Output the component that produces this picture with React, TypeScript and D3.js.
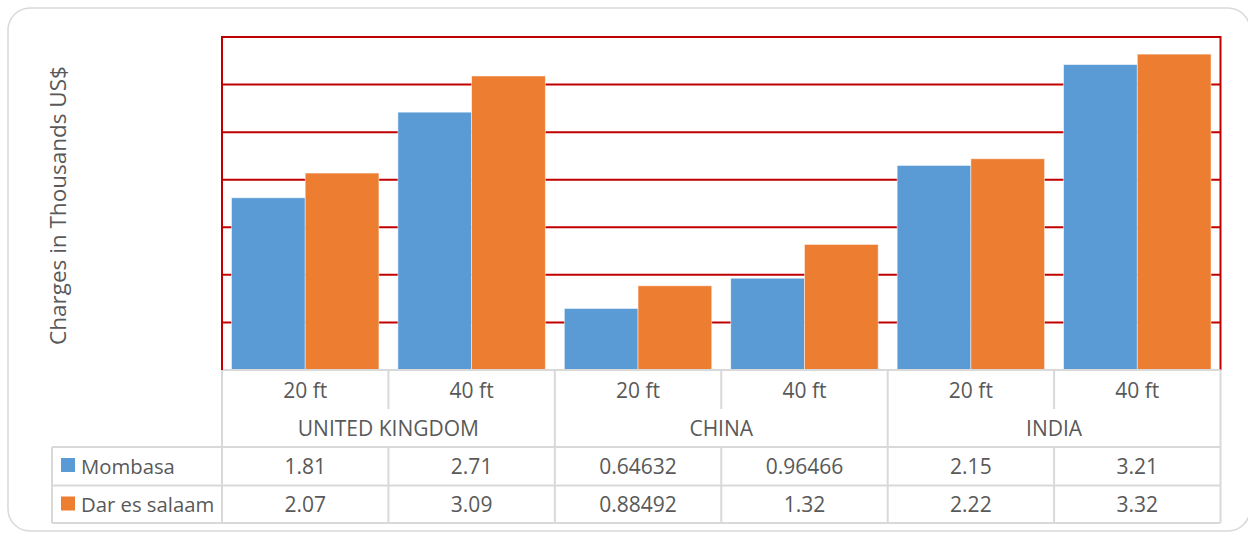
import React from "react";
import * as d3 from "d3";

const countries = ["UNITED KINGDOM", "CHINA", "INDIA"];
const sizes = ["20 ft", "40 ft"];
const seriesNames = ["Mombasa", "Dar es salaam"];
const mombasa = [1.81, 2.71, 0.64632, 0.96466, 2.15, 3.21];
const darEsSalaam = [2.07, 3.09, 0.88492, 1.32, 2.22, 3.32];
const seriesLabels = [
  ["1.81", "2.71", "0.64632", "0.96466", "2.15", "3.21"],
  ["2.07", "3.09", "0.88492", "1.32", "2.22", "3.32"],
];
const yTicks = [0, 0.5, 1, 1.5, 2, 2.5, 3, 3.5];
const colors = ["#5B9BD5", "#ED7D31"];

export default function App() {
  const W = 1248, H = 533;
  const left = 222, right = 1220.5, top = 37, bottom = 370;
  const font = "'Open Sans', sans-serif";
  const textColor = "#595959";
  const tableLine = "#d9d9d9";
  const red = "#C00000";

  const cats = countries.flatMap((c) => sizes.map((s) => `${c}|${s}`));
  const x = d3.scaleBand<string>().domain(cats).range([left, right]).paddingInner(0.114).paddingOuter(0.057);
  const xCell = d3.scaleBand<string>().domain(cats).range([left, right]).padding(0);
  const xInner = d3.scaleBand<string>().domain(seriesNames).range([0, x.bandwidth()]).padding(0);
  const y = d3.scaleLinear().domain([0, 3.5]).range([bottom, top]);
  const series = [mombasa, darEsSalaam];

  const rowSize = 370, rowCountryBottom = 447, rowM = 485.5, rowD = 523;
  const step = xCell.step();

  return (
    <svg width={W} height={H} style={{ position: "absolute", left: 0, top: 0 }} fontFamily={font}>
      <rect x={0} y={0} width={W} height={H} fill="#fff" />
      <rect x={8} y={8} width={1242} height={523} rx={22} ry={22} fill="#fff" stroke="#d9d9d9" strokeWidth={1.5} />
      {yTicks.map((t) => (
        <line key={t} x1={left} x2={right} y1={y(t)} y2={y(t)} stroke={red} strokeWidth={2} />
      ))}
      <line x1={left} x2={left} y1={top - 1} y2={bottom} stroke={red} strokeWidth={2} />
      <line x1={right} x2={right} y1={top - 1} y2={bottom} stroke={red} strokeWidth={2} />
      {cats.map((c, i) => (
        <g key={c}>
          {series.map((s, k) => (
            <rect
              key={k}
              x={(x(c) as number) + (xInner(seriesNames[k]) as number)}
              y={y(s[i])}
              width={xInner.bandwidth()}
              height={bottom - y(s[i])}
              fill={colors[k]}
              stroke="#fff"
              strokeOpacity={0.6}
              strokeWidth={0.8}
            />
          ))}
        </g>
      ))}
      <g stroke={tableLine} strokeWidth={2} fill="none">
        <line x1={left} x2={right} y1={rowSize} y2={rowSize} />
        <line x1={52} x2={right} y1={rowCountryBottom} y2={rowCountryBottom} />
        <line x1={52} x2={right} y1={rowM} y2={rowM} />
        <line x1={52} x2={right} y1={rowD} y2={rowD} />
        <line x1={52} x2={52} y1={rowCountryBottom} y2={rowD} />
        <line x1={left} x2={left} y1={rowSize} y2={rowD} />
        {cats.map((c, i) => {
          const xr = (xCell(c) as number) + step;
          const isCountryEnd = i % 2 === 1;
          return <line key={c} x1={xr} x2={xr} y1={rowSize} y2={isCountryEnd ? rowD : 409} />;
        })}
        {cats.map((c, i) => {
          const xr = (xCell(c) as number) + step;
          return i % 2 === 0 ? <line key={"b" + c} x1={xr} x2={xr} y1={rowCountryBottom} y2={rowD} /> : null;
        })}
      </g>
      <line x1={left} x2={left} y1={bottom - 8} y2={bottom} stroke={red} strokeWidth={2} />
      {cats.map((c, i) => {
        const cx = (xCell(c) as number) + step / 2;
        return (
          <g key={"t" + c} fill={textColor} fontSize={21} textAnchor="middle">
            <text x={cx} y={398}>{sizes[i % 2]}</text>
            <text x={cx} y={474}>{seriesLabels[0][i]}</text>
            <text x={cx} y={512}>{seriesLabels[1][i]}</text>
          </g>
        );
      })}
      {countries.map((c, j) => {
        const cx = (xCell(cats[j * 2]) as number) + step;
        return (
          <text key={c} x={cx} y={436} fill={textColor} fontSize={21} textAnchor="middle">{c}</text>
        );
      })}
      {seriesNames.map((s, k) => (
        <g key={s}>
          <rect x={61} y={k === 0 ? 458 : 496.5} width={14} height={14} fill={colors[k]} />
          <text x={81} y={k === 0 ? 474 : 512} fill={textColor} fontSize={20.3}>{s}</text>
        </g>
      ))}
      <text
        transform={`translate(66, ${(top + bottom) / 2 + 2}) rotate(-90)`}
        textAnchor="middle"
        fill={textColor}
        fontSize={22.5}
      >
        Charges in Thousands US$
      </text>
    </svg>
  );
}
